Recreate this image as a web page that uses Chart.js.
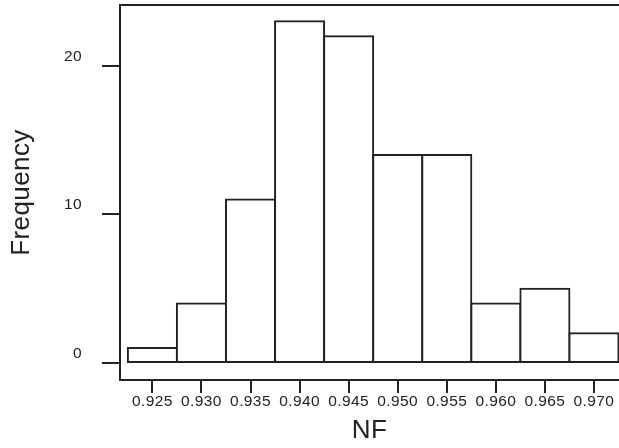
<!DOCTYPE html>
<html><head><meta charset="utf-8">
<script src="https://cdn.jsdelivr.net/npm/chart.js@4.4.1/dist/chart.umd.min.js"></script>
<style>html,body{margin:0;padding:0;background:#fff;overflow:hidden}canvas{display:block}</style>
</head><body><canvas id="c" width="619" height="448"></canvas>
<script>
// ---- data ----
const binCenters = [0.925, 0.930, 0.935, 0.940, 0.945, 0.950, 0.955, 0.960, 0.965, 0.970];
const frequencies = [1, 4, 11, 23, 22, 14, 14, 4, 5, 2];
const xTickValues = [0.925, 0.930, 0.935, 0.940, 0.945, 0.950, 0.955, 0.960, 0.965, 0.970];
const yTickValues = [0, 10, 20];
const xTitle = 'NF';
const yTitle = 'Frequency';
const xRange = [0.9217, 0.97255];
const yRange = [-1.15, 24.1];

const INK = '#222222';
const FONT = '"Liberation Sans", Arial, sans-serif';

const spacingPlugin = {
  id: 'spacing',
  beforeDraw(chart) { chart.ctx.letterSpacing = '0.4px'; }
};

const framePlugin = {
  id: 'frame',
  afterDatasetsDraw(chart) {
    const {ctx, chartArea: a} = chart;
    ctx.save();
    ctx.strokeStyle = INK;
    ctx.lineWidth = 2;
    ctx.beginPath();
    ctx.moveTo(a.right + 5, a.top);
    ctx.lineTo(a.left, a.top);
    ctx.lineTo(a.left, a.bottom);
    ctx.lineTo(a.right + 5, a.bottom);
    ctx.stroke();
    ctx.restore();
  }
};

new Chart(document.getElementById('c'), {
  type: 'bar',
  data: {
    datasets: [{
      data: binCenters.map((x, i) => ({x: x, y: frequencies[i]})),
      backgroundColor: '#ffffff',
      borderColor: INK,
      borderWidth: 2,
      borderSkipped: false,
      inflateAmount: 1,
      barPercentage: 1,
      categoryPercentage: 1
    }]
  },
  options: {
    responsive: false,
    devicePixelRatio: 1,
    animation: false,
    layout: {padding: {top: 5, right: 0, bottom: 0, left: 0}},
    plugins: {legend: {display: false}, tooltip: {enabled: false}},
    scales: {
      x: {
        type: 'linear',
        offset: false,
        min: xRange[0],
        max: xRange[1],
        afterBuildTicks: s => { s.ticks = xTickValues.map(v => ({value: v})); },
        afterFit: s => { s.height = 68; s.paddingLeft = 0; s.paddingRight = 0; },
        border: {display: false},
        grid: {offset: false, drawOnChartArea: false, drawTicks: true, tickLength: 13, tickWidth: 2, tickColor: INK, lineWidth: 2, color: INK},
        ticks: {
          color: INK, font: {family: FONT, size: 15.5}, padding: -1, maxRotation: 0, autoSkip: false,
          callback: v => Number(v).toFixed(3)
        },
        title: {display: true, text: xTitle, color: INK, font: {family: FONT, size: 26}, padding: {top: 0, bottom: 2}}
      },
      y: {
        type: 'linear',
        min: yRange[0],
        max: yRange[1],
        afterBuildTicks: s => { s.ticks = yTickValues.map(v => ({value: v})); },
        afterFit: s => { s.width = 120; s.paddingTop = 0; s.paddingBottom = 0; },
        border: {display: false},
        grid: {drawOnChartArea: false, drawTicks: true, tickLength: 18, tickWidth: 2, tickColor: INK, lineWidth: 2, color: INK},
        ticks: {
          color: INK, font: {family: FONT, size: 15.5}, padding: 20, labelOffset: -9.5, autoSkip: false,
          callback: v => String(v)
        },
        title: {display: true, text: yTitle, color: INK, font: {family: FONT, size: 26}, padding: {top: 6, bottom: 0}}
      }
    }
  },
  plugins: [spacingPlugin, framePlugin]
});
</script>
</body></html>
